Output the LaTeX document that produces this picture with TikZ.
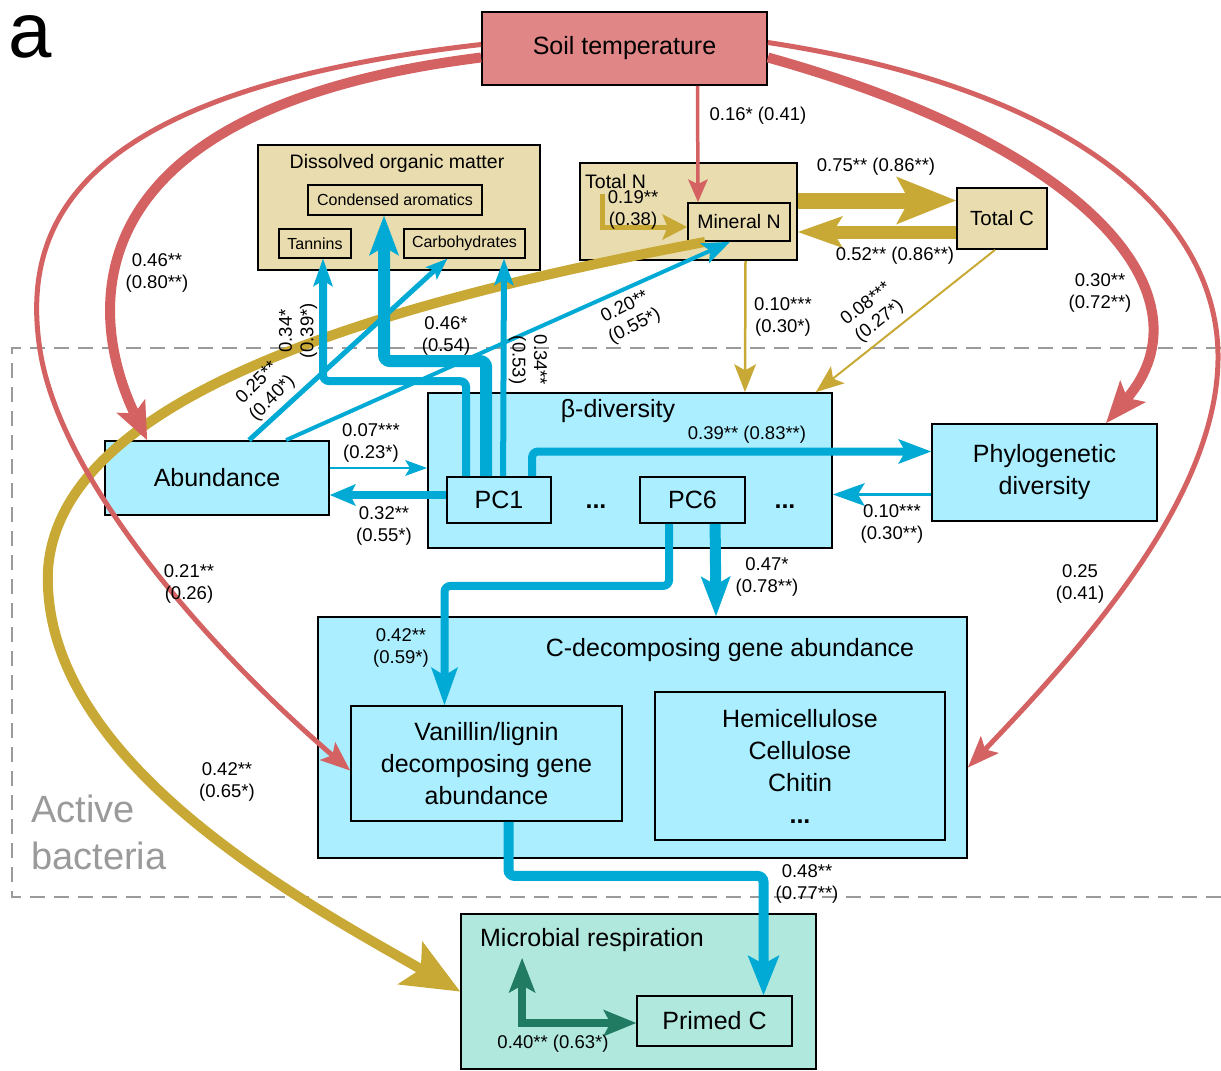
\documentclass[tikz,border=0pt]{standalone}
\usepackage{fontspec}
\setmainfont{Liberation Sans}
\usetikzlibrary{arrows.meta,calc}

\definecolor{soilred}{HTML}{E08686}
\definecolor{arcred}{HTML}{D46262}
\definecolor{gold}{HTML}{C9A935}
\definecolor{sand}{HTML}{E9DCAE}
\definecolor{sky}{HTML}{00AAD4}
\definecolor{pale}{HTML}{AAEEFF}
\definecolor{mint}{HTML}{B0E8DE}
\definecolor{deepgreen}{HTML}{217A62}
\definecolor{frame}{HTML}{9A9A9A}

\begin{document}
\begin{tikzpicture}[x=1pt, y=-1pt,
  box/.style = {draw, line width=1.8pt, inner sep=0pt, align=center, font={\fontsize{25}{32}\selectfont}},
  sbox/.style = {draw, line width=1.5pt, inner sep=0pt, font={\fontsize{16}{19}\selectfont}},
  title/.style = {inner sep=0pt, font={\fontsize{25}{32}\selectfont}},
  lab/.style = {inner sep=0pt, align=center, font={\fontsize{18.5}{21.5}\selectfont}},
  hd/.style 2 args = {-{Stealth[length=#1, width=#2, inset'=0pt 0.22, line width=0pt]}}]
\useasboundingbox (0,0) rectangle (1221,1071);

% panel letter
\node[anchor=base west, inner sep=0pt, font={\fontsize{78}{78}\selectfont}] (tag) at (8,57) {a};

% active bacteria frame
\draw[frame, line width=2pt, dash pattern=on 15pt off 9pt] (1221,348) -- (12,348) -- (12,897) -- (1221,897);
\node[anchor=north west, align=left, text=frame, inner sep=0pt, font={\fontsize{38}{47}\selectfont}] (act) at (31,795) {Active\\bacteria};

% boxes
\node[box, fill=soilred, minimum width=285pt, minimum height=73pt] (soil) at (624.5,48.5) {Soil temperature};
\node[box, fill=sand, minimum width=282pt, minimum height=125pt] (dom) at (399,207.5) {};
\node[inner sep=0pt, font={\fontsize{19.5}{23}\selectfont}] (domt) at (397,163) {Dissolved organic matter};
\node[sbox, fill=sand, minimum width=174pt, minimum height=30pt] (cond) at (395,200) {Condensed aromatics};
\node[sbox, fill=sand, minimum width=72pt, minimum height=29pt] (tann) at (315,243.5) {Tannins};
\node[sbox, fill=sand, minimum width=121pt, minimum height=29pt] (carb) at (464.5,243.5) {Carbohydrates};
\node[box, fill=sand, minimum width=217pt, minimum height=97pt] (totn) at (688.5,211.5) {};
\node[anchor=west, inner sep=0pt, font={\fontsize{19.5}{23}\selectfont}] (totnt) at (585,182) {Total N};
\node[box, fill=sand, font={\fontsize{19.5}{23}\selectfont}, minimum width=102pt, minimum height=38pt] (minn) at (739,222) {Mineral N};
\node[box, fill=sand, font={\fontsize{20.5}{24}\selectfont}, minimum width=90pt, minimum height=61pt] (totc) at (1002,218.5) {Total C};

\node[box, fill=pale, minimum width=404pt, minimum height=155pt] (beta) at (630,470.5) {};
\node[title] (betat) at (618,411) {β-diversity};
\node[box, fill=pale, minimum width=104pt, minimum height=46pt] (pc1) at (499,500) {PC1};
\node[box, fill=pale, minimum width=105pt, minimum height=46pt] (pc6) at (692.5,500) {PC6};
\node[title] (dots1) at (596,507) {\textbf{...}};
\node[title] (dots2) at (785,507) {\textbf{...}};
\node[box, fill=pale, minimum width=224pt, minimum height=74pt] (abund) at (217,478) {Abundance};
\node[box, fill=pale, minimum width=225pt, minimum height=97pt] (phylo) at (1044.5,472.5) {Phylogenetic\\diversity};

\node[box, fill=pale, minimum width=649pt, minimum height=241pt] (cdec) at (642.5,737.5) {};
\node[title] (cdect) at (730,650) {C-decomposing gene abundance};
\node[box, fill=pale, minimum width=271pt, minimum height=115pt] (van) at (486.5,763.5) {Vanillin/lignin\\decomposing gene\\abundance};
\node[box, fill=pale, minimum width=290pt, minimum height=148pt] (hemi) at (800,766) {Hemicellulose\\Cellulose\\Chitin\\\textbf{...}};

\node[box, fill=mint, minimum width=355pt, minimum height=155pt] (resp) at (638.5,991.5) {};
\node[title] (respt) at (592,940) {Microbial respiration};
\node[box, fill=mint, minimum width=155pt, minimum height=50pt] (prim) at (714.5,1021) {Primed C};

% gold paths
\draw[gold, line width=10pt, hd={58pt}{50pt}] ($(minn.south west)+(18,0)$) .. controls (400,300) and (60,390) .. (48,570) .. controls (40,760) and (300,900) .. (resp.west);
\draw[gold, line width=16pt, hd={60pt}{48pt}] ($(totn.east)+(0,-11)$) -- ($(totc.west)+(0,-18)$);
\draw[gold, line width=13pt, hd={45pt}{32pt}] ($(totc.west)+(0,13.5)$) -- ($(totn.east)+(0,20.5)$);
\draw[gold, line width=5pt, hd={25pt}{26pt}] ($(totn.north west)+(23,32)$) |- ($(minn.west)+(0,5)$);
\draw[gold, line width=2.5pt, hd={28pt}{22pt}] ($(totn.south)+(57,0)$) -- ($(beta.north)+(115,0)$);
\draw[gold, line width=2pt, hd={28pt}{22pt}] ($(totc.south)+(-7,0)$) -- ($(beta.north east)+(-17,0)$);

% red paths
\draw[arcred, line width=3.5pt, hd={23pt}{20pt}] ($(soil.south)+(73,0)$) -- ($(minn.north)+(-41,0)$);
\draw[arcred, line width=10pt, hd={38pt}{32pt}] ($(soil.west)+(0,9)$) .. controls (60,110) and (90,320) .. ($(abund.north west)+(43,0)$);
\draw[arcred, line width=5pt, hd={30pt}{24pt}] ($(soil.west)+(0,-4)$) .. controls (80,90) and (20,220) .. (40,350) .. controls (60,480) and (210,650) .. ($(van.west)+(0,7)$);
\draw[arcred, line width=10pt, hd={42pt}{34pt}] ($(soil.east)+(0,9)$) .. controls (1100,150) and (1210,300) .. ($(phylo.north west)+(175,0)$);
\draw[arcred, line width=5pt, hd={32pt}{25pt}] ($(soil.east)+(0,-6)$) .. controls (1080,90) and (1220,220) .. (1218,360) .. controls (1216,500) and (1080,650) .. ($(cdec.east)+(0,30)$);

% cyan paths
\draw[sky, line width=5pt, hd={22pt}{17pt}] ($(abund.north west)+(145,0)$) -- ($(carb.south west)+(44,0)$);
\draw[sky, line width=4pt, hd={28pt}{22pt}] ($(abund.north west)+(182,0)$) -- ($(minn.south)+(-9,0)$);
\draw[sky, line width=2.5pt, hd={22pt}{16pt}] ($(abund.east)+(0,-10)$) -- ($(beta.west)+(0,-2.5)$);
\draw[sky, line width=8pt, hd={26pt}{22pt}] ($(pc1.west)+(0,-5)$) -- ($(abund.east)+(0,17)$);
\draw[sky, line width=8pt, rounded corners=6pt, hd={28pt}{20pt}] ($(pc1.north west)+(20,0)$) -- ++(0,-95) -| ($(tann.south)+(8,0)$);
\draw[sky, line width=12pt, rounded corners=6pt, hd={40pt}{30pt}] ($(pc1.north west)+(40,0)$) -- ++(0,-115) -| ($(cond.south)+(-11,0)$);
\draw[sky, line width=6pt, hd={27pt}{20pt}] ($(pc1.north west)+(57,0)$) -- ($(carb.south)+(39.5,0)$);
\draw[sky, line width=8pt, rounded corners=6pt, hd={33pt}{25pt}] ($(pc1.north west)+(86,0)$) |- ($(phylo.west)+(0,-21)$);
\draw[sky, line width=3pt, hd={32pt}{23pt}] ($(phylo.west)+(0,22)$) -- ($(beta.east)+(0,24)$);
\draw[sky, line width=8pt, rounded corners=6pt, hd={38pt}{27pt}] ($(pc6.south west)+(30,0)$) -- ++(0,62) -| ($(van.north)+(-42,0)$);
\draw[sky, line width=11pt, hd={40pt}{30pt}] ($(pc6.south west)+(76,0)$) -- ($(cdec.north)+(73.5,0)$);
\draw[sky, line width=10pt, rounded corners=6pt, hd={40pt}{32pt}] ($(van.south)+(22,0)$) -- ++(0,54) -| ($(prim.north)+(49,0)$);

% green path
\coordinate (up) at ($(prim.west)+(-114,-63)$);
\draw[deepgreen, line width=8pt, {Stealth[length=35pt, width=27pt, inset'=0pt 0.22, line width=0pt]}-{Stealth[length=33pt, width=27pt, inset'=0pt 0.22, line width=0pt]}] (up) |- ($(prim.west)+(0,2)$);

% labels
\node[lab] (l1) at (758,116) {0.16* (0.41)};
\node[lab] (l2) at (157,273) {0.46**\\(0.80**)};
\node[lab] (l3) at (876,167) {0.75** (0.86**)};
\node[lab] (l4) at (895,256) {0.52** (0.86**)};
\node[lab] (l5) at (633,210) {0.19**\\(0.38)};
\node[lab] (l6) at (783,317) {0.10***\\(0.30*)};
\node[lab, rotate=38] (l7) at (873,313) {0.08***\\(0.27*)};
\node[lab] (l8) at (1100,293) {0.30**\\(0.72**)};
\node[lab, rotate=45] (l9) at (265,391) {0.25**\\(0.40*)};
\node[lab, rotate=90] (l10) at (298,331) {0.34*\\(0.39*)};
\node[lab] (l11) at (446,336) {0.46*\\(0.54)};
\node[lab, rotate=27] (l12) at (630,317) {0.20**\\(0.55*)};
\node[lab, rotate=-90] (l13) at (528,360) {0.34**\\(0.53)};
\node[lab] (l14) at (371,443) {0.07***\\(0.23*)};
\node[lab] (l15) at (384,526) {0.32**\\(0.55*)};
\node[lab] (l16) at (747,435) {0.39** (0.83**)};
\node[lab] (l17) at (892,524) {0.10***\\(0.30**)};
\node[lab] (l18) at (189,584) {0.21**\\(0.26)};
\node[lab] (l19) at (1080,584) {0.25\\(0.41)};
\node[lab] (l20) at (767,577) {0.47*\\(0.78**)};
\node[lab] (l21) at (401,648) {0.42**\\(0.59*)};
\node[lab] (l22) at (227,782) {0.42**\\(0.65*)};
\node[lab] (l23) at (807,884) {0.48**\\(0.77**)};
\node[lab] (l24) at (553,1044) {0.40** (0.63*)};
\end{tikzpicture}
\end{document}
